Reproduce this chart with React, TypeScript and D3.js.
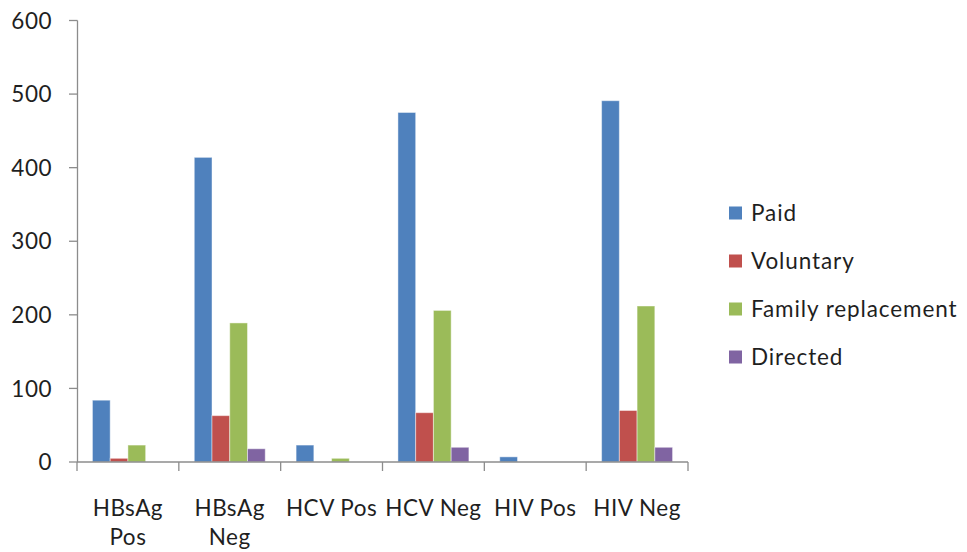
import React from "react";
import * as d3 from "d3";

const categories = ["HBsAg Pos", "HBsAg Neg", "HCV Pos", "HCV Neg", "HIV Pos", "HIV Neg"];
const categoryLines = [["HBsAg", "Pos"], ["HBsAg", "Neg"], ["HCV Pos"], ["HCV Neg"], ["HIV Pos"], ["HIV Neg"]];
const seriesNames = ["Paid", "Voluntary", "Family replacement", "Directed"];
const paid = [84, 414, 23, 475, 7, 491];
const voluntary = [5, 63, 0, 67, 0, 70];
const familyReplacement = [23, 189, 5, 206, 0, 212];
const directed = [0, 18, 0, 20, 0, 20];
const seriesColors = ["#4F81BD", "#C0504D", "#9BBB59", "#8064A2"];
const yTicks = [0, 100, 200, 300, 400, 500, 600];

const W = 967;
const H = 552;
const FONT = "Lato, 'Open Sans', sans-serif";
const FS = 22.5;
const LS = 0.5;

export default function App() {
  const seriesValues = [paid, voluntary, familyReplacement, directed];
  const x = d3.scaleBand<string>().domain(categories).range([77, 688]).padding(0);
  const xInner = d3
    .scaleBand<string>()
    .domain(seriesNames)
    .range([0, x.bandwidth()])
    .paddingInner(0)
    .paddingOuter(0.87);
  const y = d3.scaleLinear().domain([0, 600]).range([462, 20.5]);
  const axisColor = "#8c8c8c";
  const textColor = "#1f1f1f";

  return (
    <svg width={W} height={H} style={{ position: "absolute", left: 0, top: 0, background: "#fff" }}>
      <rect x={0} y={0} width={W} height={H} fill="#fff" />
      {/* bars */}
      {categories.map((c, ci) => (
        <g key={c} transform={`translate(${x(c)},0)`}>
          {seriesNames.map((s, si) => {
            const v = seriesValues[si][ci];
            if (v <= 0) return null;
            return (
              <rect
                key={s}
                x={xInner(s)}
                y={y(v)}
                width={xInner.bandwidth()}
                height={y(0) - y(v)}
                fill={seriesColors[si]}
                stroke="#ffffff"
                strokeOpacity={0.45}
                strokeWidth={1}
              />
            );
          })}
        </g>
      ))}
      {/* y axis */}
      <line x1={77.5} x2={77.5} y1={y(600)} y2={y(0)} stroke={axisColor} strokeWidth={1.3} />
      {yTicks.map((t) => (
        <g key={t}>
          <line x1={69} x2={77.5} y1={y(t)} y2={y(t)} stroke={axisColor} strokeWidth={1.3} />
          <text
            x={52}
            y={y(t)}
            dy="0.36em"
            textAnchor="end"
            fontFamily={FONT}
            fontSize={FS}
            letterSpacing={LS}
            fill={textColor}
          >
            {t}
          </text>
        </g>
      ))}
      {/* x axis */}
      <line x1={77} x2={688} y1={y(0)} y2={y(0)} stroke={axisColor} strokeWidth={1.3} />
      {[...categories.map((c) => x(c) as number), 688].map((px, i) => (
        <line key={i} x1={px} x2={px} y1={y(0)} y2={y(0) + 9} stroke={axisColor} strokeWidth={1.3} />
      ))}
      {categories.map((c, ci) => (
        <text
          key={c}
          x={(x(c) as number) + x.bandwidth() / 2}
          y={515.5}
          textAnchor="middle"
          fontFamily={FONT}
          fontSize={FS}
          letterSpacing={LS}
          fill={textColor}
        >
          {categoryLines[ci].map((line, li) => (
            <tspan key={li} x={(x(c) as number) + x.bandwidth() / 2} dy={li === 0 ? 0 : 29}>
              {line}
            </tspan>
          ))}
        </text>
      ))}
      {/* legend */}
      {seriesNames.map((s, si) => {
        const cy = 213 + si * 48;
        return (
          <g key={s}>
            <rect x={729} y={cy - 6.5} width={13} height={13} fill={seriesColors[si]} />
            <text x={751} y={cy} dy="0.36em" fontFamily={FONT} fontSize={FS} letterSpacing={0.9} fill={textColor}>
              {s}
            </text>
          </g>
        );
      })}
    </svg>
  );
}
